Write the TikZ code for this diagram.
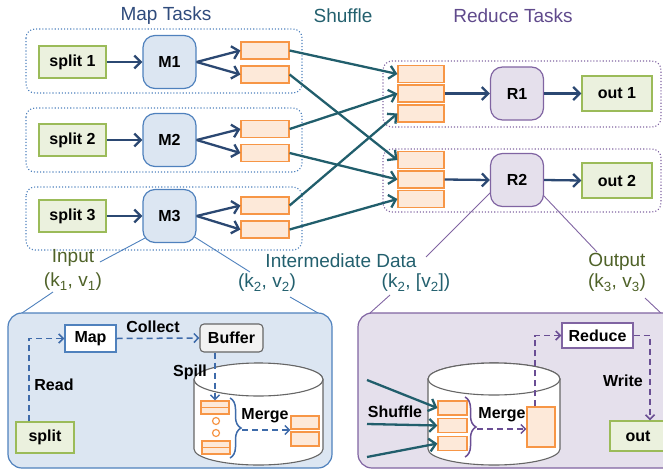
\documentclass[tikz,border=0pt]{standalone}
\usepackage{fontspec}
\setmainfont{Liberation Sans}
\usetikzlibrary{arrows.meta,decorations.pathreplacing,backgrounds}
\definecolor{navy}{HTML}{2B4872}
\definecolor{teal}{HTML}{215E6C}
\definecolor{bblue}{HTML}{4F81BD}
\definecolor{ppl}{HTML}{8064A2}
\definecolor{grn}{HTML}{9BBB59}
\definecolor{grnfill}{HTML}{EBF1DE}
\definecolor{org}{HTML}{F79646}
\definecolor{orgfill}{HTML}{FDE9D9}
\definecolor{bluefill}{HTML}{DCE6F2}
\definecolor{pplfill}{HTML}{E5E0EC}
\definecolor{olive}{HTML}{4F6228}
\definecolor{mapT}{HTML}{2F4B7C}
\definecolor{redT}{HTML}{604A8C}
\definecolor{shufT}{HTML}{23606E}
\definecolor{ldashc}{HTML}{3E6BAA}
\definecolor{rdashc}{HTML}{6A4E94}
\begin{document}
\begin{tikzpicture}[x=1pt,y=-1pt,
  lbl/.style={font=\fontsize{16}{18}\selectfont\bfseries, inner sep=1pt},
  title/.style={font=\fontsize{19}{22}\selectfont, inner sep=1pt},
  splitbox/.style={lbl, draw=grn, fill=grnfill, line width=1.4pt, minimum width=67pt, minimum height=32pt},
  outbox/.style={splitbox, minimum width=70pt, minimum height=35pt},
  mnode/.style={lbl, draw=bblue, fill=bluefill, line width=1.2pt, rounded corners=12pt, minimum width=53pt, minimum height=53pt},
  rnode/.style={mnode, draw=ppl, fill=pplfill},
  obox/.style={draw=org, fill=orgfill, line width=1.2pt, minimum width=48pt, minimum height=17pt, inner sep=0pt},
  rbox/.style={obox, minimum width=46pt},
  sbox/.style={draw=org, fill=orgfill, line width=1.2pt, minimum width=29pt, minimum height=14pt, inner sep=0pt},
  navyarr/.style={draw=navy, line width=2.3pt, -{Straight Barb[length=6.5pt,width=13pt]}},
  tealarr/.style={draw=teal, line width=2.3pt, -{Straight Barb[length=6.5pt,width=13pt]}},
  contb/.style={draw=bblue, dotted, line width=1.1pt, rounded corners=9pt},
  contp/.style={draw=ppl, dotted, line width=1.1pt, rounded corners=9pt},
  zoomb/.style={draw=bblue, line width=0.9pt},
  zoomp/.style={draw=ppl, line width=0.9pt},
  ldash/.style={draw=ldashc, dash pattern=on 6pt off 4pt, line width=1.5pt, -{Straight Barb[length=4.5pt,width=9pt]}},
  rdash/.style={draw=rdashc, dash pattern=on 6pt off 4pt, line width=1.5pt, -{Straight Barb[length=4.5pt,width=9pt]}},
  cyl/.style={draw=gray!80!black, line width=1.1pt, fill=white},
  smalllbl/.style={font=\fontsize{19}{22}\selectfont, inner sep=1pt}
]
\useasboundingbox (0,0) rectangle (663,471);

% titles
\node[title, text=mapT] (tMap) at (166,16) {Map Tasks};
\node[title, text=shufT] (tShuf) at (343,16) {Shuffle};
\node[title, text=redT] (tRed) at (513,16) {Reduce Tasks};

% containers
\draw[contb] (26,29) rectangle (302,93);
\draw[contb] (26,108) rectangle (302,172);
\draw[contb] (26,187) rectangle (302,250);
\draw[contp] (383,61) rectangle (661,127);
\draw[contp] (383,149) rectangle (661,212);

% map side nodes
\node[splitbox] (s1) at (72.5,62) {split 1};
\node[splitbox] (s2) at (72.5,140) {split 2};
\node[splitbox] (s3) at (72.5,216) {split 3};
\node[mnode] (M1) at (169.5,62) {M1};
\node[mnode] (M2) at (169.5,140) {M2};
\node[mnode] (M3) at (169.5,216) {M3};
\node[obox] (a11) at (265,50.5) {};
\node[obox] (a12) at (265,74.5) {};
\node[obox] (a21) at (265,129) {};
\node[obox] (a22) at (265,153) {};
\node[obox] (a31) at (265,205.5) {};
\node[obox] (a32) at (265,229.5) {};

% reduce side nodes
\node[rbox] (r11) at (421,74) {};
\node[rbox] (r12) at (421,93.5) {};
\node[rbox] (r13) at (421,113.5) {};
\node[rbox] (r21) at (421,160) {};
\node[rbox] (r22) at (421,179.5) {};
\node[rbox] (r23) at (421,199) {};
\node[rnode] (R1) at (517,93.5) {R1};
\node[rnode] (R2) at (517,180) {R2};
\node[outbox] (o1) at (617,93.5) {out 1};
\node[outbox] (o2) at (617,180.5) {out 2};

% map arrows
\foreach \i in {1,2,3} {
  \draw[navyarr] (s\i.east) -- (M\i.west);
  \draw[navyarr] (M\i.east) -- (a\i1.west);
  \draw[navyarr] (M\i.east) -- (a\i2.west);
}
% shuffle
\draw[tealarr] (a11.east) -- (r11.west);
\draw[tealarr] (a12.east) -- (r21.west);
\draw[tealarr] (a21.east) -- (r12.west);
\draw[tealarr] (a22.east) -- (r22.west);
\draw[tealarr] (a31.east) -- (r13.west);
\draw[tealarr] (a32.east) -- (r23.west);
% reduce arrows
\draw[navyarr] (r12.east) -- (R1.west);
\draw[navyarr] (r22.east) -- (R2.west);
\draw[navyarr] (R1.east) -- (o1.west);
\draw[navyarr] (R2.east) -- (o2.west);

% labels between
\node[smalllbl, text=olive] (inp) at (73,258) {Input};
\node[smalllbl, text=olive] (inpkv) at (73,282) {(k\textsubscript{1}, v\textsubscript{1})};
\node[smalllbl, text=shufT] (imd) at (341,261) {Intermediate Data};
\node[smalllbl, text=shufT] (imkv) at (267,283) {(k\textsubscript{2}, v\textsubscript{2})};
\node[smalllbl, text=shufT] (imkvl) at (416,283) {(k\textsubscript{2}, [v\textsubscript{2}])};
\node[smalllbl, text=olive] (outp) at (617,262) {Output};
\node[smalllbl, text=olive] (outkv) at (617,283) {(k\textsubscript{3}, v\textsubscript{3})};

% zoom lines
\coordinate (zm1) at (147,237);
\coordinate (zm2) at (100,262);
\coordinate (zm3) at (53,292);
\coordinate (zm4) at (22,313);
\coordinate (zm5) at (193,236);
\coordinate (zm6) at (250,272);
\coordinate (zm7) at (290,297);
\coordinate (zm8) at (318,313);
\coordinate (zr1) at (491,192);
\coordinate (zr2) at (426,257);
\coordinate (zr3) at (390,295);
\coordinate (zr4) at (370,313);
\coordinate (zr5) at (543,195);
\coordinate (zr6) at (597,252);
\coordinate (zr7) at (645,298);
\coordinate (zr8) at (663,315);
\begin{scope}[on background layer]
\draw[zoomb] (zm1) -- (zm2);
\draw[zoomb] (zm3) -- (zm4);
\draw[zoomb] (zm5) -- (zm6);
\draw[zoomb] (zm7) -- (zm8);
\draw[zoomp] (zr1) -- (zr2);
\draw[zoomp] (zr3) -- (zr4);
\draw[zoomp] (zr5) -- (zr6);
\draw[zoomp] (zr7) -- (zr8);
\end{scope}

% bottom panels
\draw[draw=bblue, fill=bluefill, line width=1.2pt, rounded corners=14pt] (8,313) rectangle (332,468);
\draw[draw=ppl, fill=pplfill, line width=1.2pt, rounded corners=14pt] (358,313) rectangle (690,468);

% left cylinder
\path[cyl] (194,379.5) -- (194,449) arc[start angle=180, end angle=360, x radius=64.5pt, y radius=16pt] -- (323,379.5) arc[start angle=0, end angle=180, x radius=64.5pt, y radius=16pt] -- cycle;
\draw[cyl] (258.5,379.5) ellipse [x radius=64.5pt, y radius=16.5pt];
% right cylinder
\path[cyl] (428,379) -- (428,449) arc[start angle=180, end angle=360, x radius=66pt, y radius=16pt] -- (560,379) arc[start angle=0, end angle=180, x radius=66pt, y radius=16pt] -- cycle;
\draw[cyl] (494,379) ellipse [x radius=66pt, y radius=16pt];

% left panel content
\node[lbl, draw=bblue, fill=white, line width=1.4pt, minimum width=51pt, minimum height=27pt] (lmap) at (90.5,338.5) {Map};
\node[lbl, draw=gray!80!black, fill=gray!10, line width=1.1pt, rounded corners=4pt, minimum width=63pt, minimum height=28pt] (buf) at (231.5,338) {Buffer};
\node[splitbox, minimum width=58pt, minimum height=31pt] (lsplit) at (45,437.5) {split};
\node[lbl] (collect) at (153,327) {Collect};
\node[lbl] (read) at (54,385) {Read};
\node[lbl] (spill) at (190,372) {Spill};
\node[sbox, minimum width=28pt, minimum height=13pt] (lb1) at (215,407.5) {};
\draw[draw=org, line width=1.2pt] (lb1.west) -- (lb1.east);
\node[sbox, minimum width=28pt, minimum height=13pt] (lb2) at (216,447.5) {};
\draw[draw=org, line width=1.2pt] (lb2.west) -- (lb2.east);
\node[circle, draw=org, line width=1.2pt, minimum size=7pt, inner sep=0pt] (c1) at (216,421) {};
\node[circle, draw=org, line width=1.2pt, minimum size=7pt, inner sep=0pt] (c2) at (216,433) {};
\draw[draw=ldashc, line width=1.5pt, decorate, decoration={brace, amplitude=11pt}] (230,398) -- (230,458);
\node[lbl] (lmerge) at (265,416) {Merge};
\node[sbox, minimum width=28pt, minimum height=13pt] (lo1) at (305,422.5) {};
\node[sbox, minimum width=28pt, minimum height=14pt] (lo2) at (305,439) {};
\coordinate (lbt) at (242,430);
\draw[ldash] (lbt) -- (lo2.north west |- lbt);
\draw[ldash] ([xshift=-16pt]lsplit.north) |- (lmap.west);
\draw[ldash] (lmap.east) -- (buf.west);
\draw[ldash] (lb1.north |- buf.south) -- (lb1.north);

% right panel content
\node[rbox, minimum width=29pt, minimum height=14pt] (rb1) at (452.5,408) {};
\node[rbox, minimum width=29pt, minimum height=14pt] (rb2) at (452.5,425.5) {};
\node[rbox, minimum width=29pt, minimum height=14pt] (rb3) at (452.5,443.5) {};
\draw[draw=rdashc, line width=1.5pt, decorate, decoration={brace, amplitude=11pt}] (465,397) -- (465,457);
\node[lbl] (rmerge) at (502,415) {Merge};
\node[obox, minimum width=28pt, minimum height=40pt] (big) at (541,427) {};
\coordinate (rbt) at (477,429);
\draw[rdash] (rbt) -- (big.west |- rbt);
\node[lbl, draw=ppl, fill=white, line width=1.4pt, minimum width=71pt, minimum height=25pt] (red) at (597.5,335.5) {Reduce};
\node[outbox, minimum width=56pt, minimum height=30pt] (rout) at (638,436) {out};
\node[lbl] (write) at (623,381) {Write};
\node[lbl] (shuf) at (395,412) {Shuffle};
\draw[rdash] ([xshift=-6pt]big.north) |- (red.west);
\draw[rdash] (red.east) -| ([xshift=12pt]rout.north);
\coordinate (sh1) at (367,380);
\coordinate (sh2) at (367,424);
\coordinate (sh3) at (367,457);
\draw[tealarr] (sh1) -- (rb1.west);
\draw[tealarr] (sh2) -- (rb2.west);
\draw[tealarr] (sh3) -- (rb3.west);
\end{tikzpicture}
\end{document}
